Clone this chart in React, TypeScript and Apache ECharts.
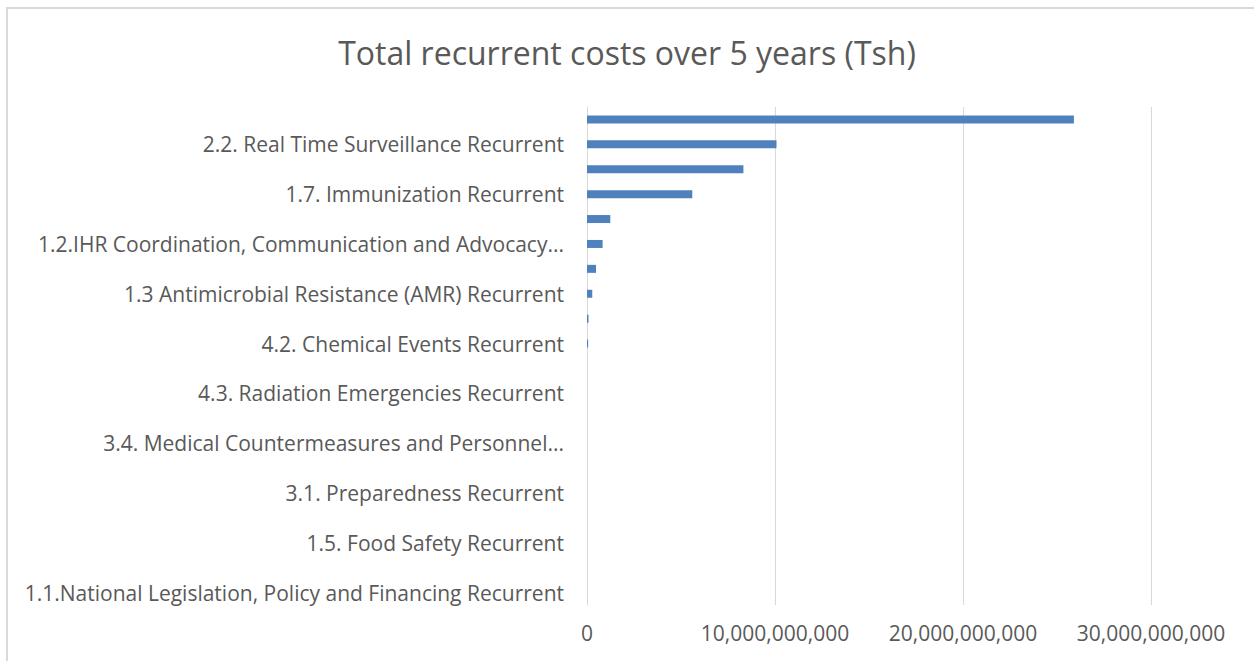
import React, { useEffect, useRef } from "react";
import * as echarts from "echarts";

// Categories listed bottom-to-top (Excel order)
const categories: string[] = [
  "1.1.National Legislation, Policy and Financing Recurrent",
  "4.4. Other Hazards Recurrent",
  "1.5. Food Safety Recurrent",
  "2.3. Reporting Recurrent",
  "3.1. Preparedness Recurrent",
  "3.3. Linking Public Health and Security Authorities Recurrent",
  "3.4. Medical Countermeasures and Personnel...",
  "1.6. Biosafety and Biosecurity Recurrent",
  "4.3. Radiation Emergencies Recurrent",
  "3.5. Risk Communication Recurrent",
  "4.2. Chemical Events Recurrent",
  "1.4. Zoonotic Disease Recurrent",
  "1.3 Antimicrobial Resistance (AMR) Recurrent",
  "4.1. Points of Entry Recurrent",
  "1.2.IHR Coordination, Communication and Advocacy...",
  "3.2. Emergency Response Operations Recurrent",
  "1.7. Immunization Recurrent",
  "2.4. Workforce Development Recurrent",
  "2.2. Real Time Surveillance Recurrent",
  "2.1. National Laboratory System Recurrent",
];

const recurrentCosts: number[] = [
  0, 0, 0, 0, 0, 0, 0, 0, 0, 0,
  60000000, 80000000, 280000000, 480000000, 830000000, 1240000000,
  5600000000, 8320000000, 10080000000, 25900000000,
];

const xTicks: number[] = [0, 10000000000, 20000000000, 30000000000];

const title = "Total recurrent costs over 5 years (Tsh)";

export default function App() {
  const ref = useRef<HTMLDivElement>(null);
  useEffect(() => {
    if (!ref.current) return;
    const chart = echarts.init(ref.current, null, { renderer: "svg" });
    const font = "'Open Sans', sans-serif";
    chart.setOption({
      animation: false,
      backgroundColor: "#ffffff",
      title: {
        text: title,
        left: "center",
        top: 31,
        textStyle: {
          fontFamily: font,
          fontSize: 32,
          fontWeight: "normal",
          color: "#595959",
        },
      },
      graphic: [
        {
          type: "rect",
          shape: { x: 7, y: 8, width: 1400, height: 800 },
          style: { fill: "none", stroke: "#d9d9d9", lineWidth: 2 },
          silent: true,
        },
      ],
      grid: {
        left: 587,
        top: 107,
        right: 1254 - 1151,
        height: 498,
        containLabel: false,
      },
      xAxis: {
        type: "value",
        min: xTicks[0],
        max: xTicks[xTicks.length - 1],
        interval: xTicks[1] - xTicks[0],
        axisLine: { show: false },
        axisTick: { show: false },
        splitLine: { show: true, lineStyle: { color: "#d9d9d9", width: 1 } },
        axisLabel: {
          margin: 17,
          fontFamily: font,
          fontSize: 21,
          color: "#595959",
          formatter: (v: number) => v.toLocaleString("en-US"),
        },
      },
      yAxis: {
        type: "category",
        data: categories,
        axisLine: { show: true, lineStyle: { color: "#d9d9d9", width: 1 } },
        axisTick: { show: false },
        axisLabel: {
          interval: 1,
          margin: 23,
          fontFamily: font,
          fontSize: 21,
          color: "#595959",
        },
      },
      series: [
        {
          type: "bar",
          data: recurrentCosts,
          barWidth: 8,
          itemStyle: {
            color: "#4f81bd",
            borderWidth: 0,
          },
        },
      ],
    });
    return () => chart.dispose();
  }, []);
  return (
    <div
      style={{
        position: "fixed",
        left: 0,
        top: 0,
        width: 1254,
        height: 661,
        background: "#fff",
      }}
    >
      <div ref={ref} style={{ width: 1254, height: 661 }} />
    </div>
  );
}
